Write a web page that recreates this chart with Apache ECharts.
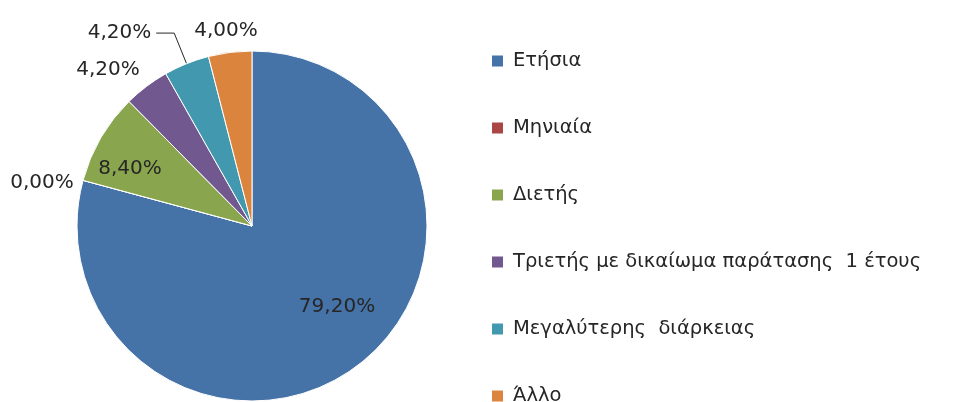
<!DOCTYPE html>
<html><head><meta charset="utf-8">
<script src="https://cdn.jsdelivr.net/npm/echarts@6/dist/echarts.min.js"></script>
<style>html,body{margin:0;padding:0;background:#fff}#c{width:957px;height:402px}</style>
</head><body><div id="c"></div>
<script>
const categories = ['Ετήσια','Μηνιαία','Διετής','Τριετής με δικαίωμα παράτασης  1 έτους','Μεγαλύτερης  διάρκειας','Άλλο'];
const values = [79.2, 0.0, 8.4, 4.2, 4.2, 4.0];
const colors = ['#4572A7','#AA4643','#89A54E','#71588F','#4198AF','#DB843D'];
const labelPos = ['inside','outside','inside','outside','outside','outside'];
const showLine = [false,false,false,false,true,false];
// label anchor points (annotation placement); null = default placement with leader line
const labelAnchors = [[337,307],[42,183],[130,169],[108,70],null,[226,31]];

const FONT = 'DejaVu Sans';
const chart = echarts.init(document.getElementById('c'));
const data = categories.map((n,i)=>({
  name:n, value:values[i],
  itemStyle:{color:colors[i]},
  label:{position:labelPos[i]},
  labelLine:showLine[i] ? {show:true, length:33, length2:18} : {show:false}
}));
chart.setOption({
  animation:false,
  legend:{
    orient:'vertical', left:487, top:45, height:380,
    itemWidth:11, itemHeight:11, itemGap:45, icon:'rect',
    itemStyle:{borderWidth:0},
    textStyle:{fontFamily:FONT, fontSize:19.5, color:'#262626', lineHeight:22, padding:[0,0,0,5]},
    data:categories
  },
  series:[{
    type:'pie', center:[252,226], radius:175, startAngle:90, clockwise:true,
    avoidLabelOverlap:false,
    itemStyle:{borderColor:'#fff', borderWidth:1},
    label:{show:true, fontFamily:FONT, fontSize:20, color:'#262626',
      formatter:p=>p.value.toFixed(2).replace('.',',')+'%'},
    labelLine:{lineStyle:{color:'#262626',width:1}},
    labelLayout:function(p){
      const a = labelAnchors[p.dataIndex];
      if(!a) return {hideOverlap:false};
      return {x:a[0], y:a[1], align:'center', verticalAlign:'middle', hideOverlap:false};
    },
    data:data
  }]
});
</script></body></html>
